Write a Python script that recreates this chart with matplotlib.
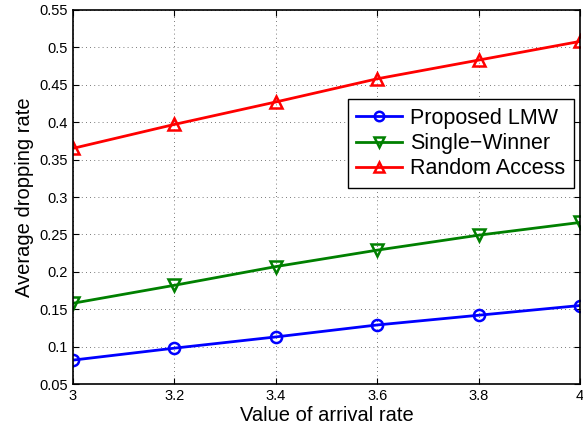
import numpy as np
import matplotlib
matplotlib.use('Agg')
from matplotlib import pyplot as plt

# Data
arrival_rate = [3.0, 3.2, 3.4, 3.6, 3.8, 4.0]
proposed_lmw = [0.082, 0.098, 0.113, 0.129, 0.142, 0.155]
single_winner = [0.158, 0.182, 0.207, 0.229, 0.249, 0.266]
random_access = [0.365, 0.397, 0.427, 0.458, 0.483, 0.508]

x_ticks = [3, 3.2, 3.4, 3.6, 3.8, 4]
x_tick_labels = ['3', '3.2', '3.4', '3.6', '3.8', '4']
y_ticks = [0.05, 0.1, 0.15, 0.2, 0.25, 0.3, 0.35, 0.4, 0.45, 0.5, 0.55]
y_tick_labels = ['0.05', '0.1', '0.15', '0.2', '0.25', '0.3', '0.35', '0.4', '0.45', '0.5', '0.55']

plt.rcParams['font.family'] = ['Liberation Sans', 'DejaVu Sans']

fig = plt.figure(figsize=(5.83, 4.33), dpi=100)
ax = fig.add_axes([0.125, 0.113, 0.87, 0.864])

ax.plot(arrival_rate, proposed_lmw, color='blue', lw=2, marker='o', ms=8,
        mfc='none', mew=1.8, label='Proposed LMW')
ax.plot(arrival_rate, single_winner, color=(0, 0.5, 0), lw=2, marker='v', ms=8.5,
        mfc='none', mew=1.8, label='Single\u2212Winner')
ax.plot(arrival_rate, random_access, color='red', lw=2, marker='^', ms=8.5,
        mfc='none', mew=1.8, label='Random Access')

ax.set_xlim(3, 4)
ax.set_ylim(0.05, 0.55)
ax.set_xticks(x_ticks)
ax.set_xticklabels(x_tick_labels)
ax.set_yticks(y_ticks)
ax.set_yticklabels(y_tick_labels)
ax.tick_params(direction='in', top=True, right=True, labelsize=10.5, length=4)
ax.grid(True, linestyle=(0, (1, 4)), color='black', lw=0.6, alpha=0.7)
for s in ax.spines.values():
    s.set_linewidth(1.2)

ax.set_xlabel('Value of arrival rate', fontsize=14.5, labelpad=2)
ax.set_ylabel('Average dropping rate', fontsize=14.5, labelpad=4)

leg = ax.legend(loc='lower left', bbox_to_anchor=(0.542, 0.524), fontsize=15.5,
                fancybox=False, framealpha=1, edgecolor='black',
                handlelength=2.1, borderaxespad=0, labelspacing=0.2,
                borderpad=0.4, handletextpad=0.4, markerscale=0.85)
leg.get_frame().set_linewidth(1.0)

fig.savefig('out.png', dpi=100)
